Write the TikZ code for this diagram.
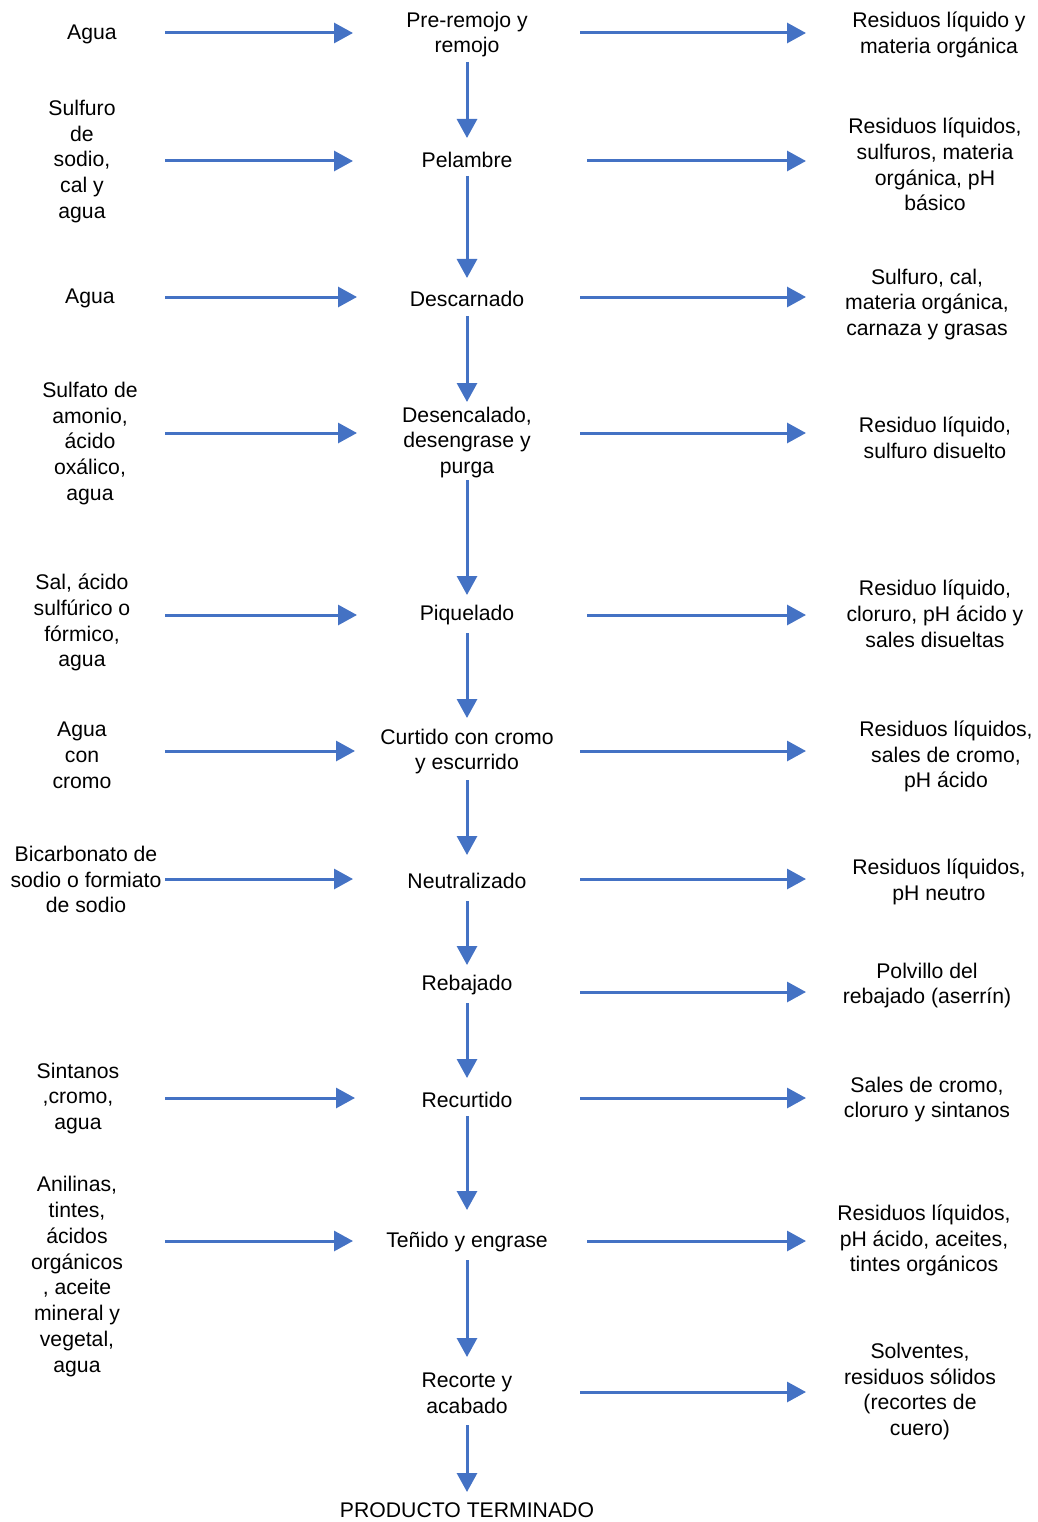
\documentclass[tikz,border=0pt]{standalone}
\usepackage{fontspec}
\setmainfont{Liberation Sans}
\usetikzlibrary{arrows.meta}
\definecolor{arrblue}{HTML}{4472C4}
\tikzset{
  txt/.style={align=center, inner sep=0pt, yshift=-1.5pt, font=\fontsize{21.2}{25.8}\selectfont},
  flow/.style={draw=arrblue, line width=3pt, -{Triangle[length=19pt,width=20pt]}, arrblue},
}
\begin{document}
\begin{tikzpicture}[x=1pt,y=-1pt]
\useasboundingbox (0,0) rectangle (1037,1522);
% center column
\node[txt] (c1) at (467,33) {Pre-remojo y\\remojo};
\node[txt] (c2) at (467,158) {Pelambre};
\node[txt] (c3) at (467,297) {Descarnado};
\node[txt] (c4) at (467,441) {Desencalado,\\desengrase y\\purga};
\node[txt] (c5) at (467,614) {Piquelado};
\node[txt] (c6) at (467,750) {Curtido con cromo\\y escurrido};
\node[txt] (c7) at (467,879) {Neutralizado};
\node[txt] (c8) at (467,984) {Rebajado};
\node[txt] (c9) at (467,1098) {Recurtido};
\node[txt] (c10) at (467,1241) {Teñido y engrase};
\node[txt] (c11) at (467,1392) {Recorte y\\acabado};
\node[txt] (c12) at (467,1508.5) {PRODUCTO TERMINADO};
% left column
\node[txt] (l1) at (92,33) {Agua};
\node[txt] (l2) at (82,160) {Sulfuro\\de\\sodio,\\cal y\\agua};
\node[txt] (l3) at (90,297) {Agua};
\node[txt] (l4) at (90,442) {Sulfato de\\amonio,\\ácido\\oxálico,\\agua};
\node[txt] (l5) at (82,621) {Sal, ácido\\sulfúrico o\\fórmico,\\agua};
\node[txt] (l6) at (82,754) {Agua\\con\\cromo};
\node[txt] (l7) at (86,878) {Bicarbonato de\\sodio o formiato\\de sodio};
\node[txt] (l9) at (78,1097) {Sintanos\\,cromo,\\agua};
\node[txt] (l10) at (77,1275) {Anilinas,\\tintes,\\ácidos\\orgánicos\\, aceite\\mineral y\\vegetal,\\agua};
% right column
\node[txt] (r1) at (939,33) {Residuos líquido y\\materia orgánica};
\node[txt] (r2) at (935,163) {Residuos líquidos,\\sulfuros, materia\\orgánica, pH\\básico};
\node[txt] (r3) at (927,303) {Sulfuro, cal,\\materia orgánica,\\carnaza y grasas};
\node[txt] (r4) at (935,436) {Residuo líquido,\\sulfuro disuelto};
\node[txt] (r5) at (935,612) {Residuo líquido,\\cloruro, pH ácido y\\sales disueltas};
\node[txt] (r6) at (946,755) {Residuos líquidos,\\sales de cromo,\\pH ácido};
\node[txt] (r7) at (939,880) {Residuos líquidos,\\pH neutro};
\node[txt] (r8) at (927,984) {Polvillo del\\rebajado (aserrín)};
\node[txt] (r9) at (927,1098) {Sales de cromo,\\cloruro y sintanos};
\node[txt] (r10) at (924,1239) {Residuos líquidos,\\pH ácido, aceites,\\tintes orgánicos};
\node[txt] (r11) at (920,1390) {Solventes,\\residuos sólidos\\(recortes de\\cuero)};
% arrow endpoints: vertical
\coordinate (v1s) at (467,62);   \coordinate (v1e) at (467,138);
\coordinate (v2s) at (467,176);  \coordinate (v2e) at (467,278);
\coordinate (v3s) at (467,316);  \coordinate (v3e) at (467,402);
\coordinate (v4s) at (467,480);  \coordinate (v4e) at (467,595);
\coordinate (v5s) at (467,633);  \coordinate (v5e) at (467,718);
\coordinate (v6s) at (467,780);  \coordinate (v6e) at (467,855);
\coordinate (v7s) at (467,901);  \coordinate (v7e) at (467,965);
\coordinate (v8s) at (467,1003); \coordinate (v8e) at (467,1078);
\coordinate (v9s) at (467,1116); \coordinate (v9e) at (467,1210);
\coordinate (v10s) at (467,1260);\coordinate (v10e) at (467,1357);
\coordinate (v11s) at (467,1425);\coordinate (v11e) at (467,1492);
% left arrows
\coordinate (a1s) at (165,33);   \coordinate (a1e) at (353,33);
\coordinate (a2s) at (165,161);  \coordinate (a2e) at (353,161);
\coordinate (a3s) at (165,297);  \coordinate (a3e) at (357,297);
\coordinate (a4s) at (165,433);  \coordinate (a4e) at (357,433);
\coordinate (a5s) at (165,615);  \coordinate (a5e) at (357,615);
\coordinate (a6s) at (165,751);  \coordinate (a6e) at (355,751);
\coordinate (a7s) at (165,879);  \coordinate (a7e) at (353,879);
\coordinate (a9s) at (165,1098); \coordinate (a9e) at (355,1098);
\coordinate (a10s) at (165,1241);\coordinate (a10e) at (353,1241);
% right arrows
\coordinate (b1s) at (580,33);   \coordinate (b1e) at (806,33);
\coordinate (b2s) at (587,161);  \coordinate (b2e) at (806,161);
\coordinate (b3s) at (580,297);  \coordinate (b3e) at (806,297);
\coordinate (b4s) at (580,433);  \coordinate (b4e) at (806,433);
\coordinate (b5s) at (587,615);  \coordinate (b5e) at (806,615);
\coordinate (b6s) at (580,751);  \coordinate (b6e) at (806,751);
\coordinate (b7s) at (580,879);  \coordinate (b7e) at (806,879);
\coordinate (b8s) at (580,992);  \coordinate (b8e) at (806,992);
\coordinate (b9s) at (580,1098); \coordinate (b9e) at (806,1098);
\coordinate (b10s) at (587,1241);\coordinate (b10e) at (806,1241);
\coordinate (b11s) at (580,1392);\coordinate (b11e) at (806,1392);
\foreach \i in {1,...,11} {\draw[flow] (v\i s) -- (v\i e);}
\foreach \i in {1,2,3,4,5,6,7,9,10} {\draw[flow] (a\i s) -- (a\i e);}
\foreach \i in {1,...,11} {\draw[flow] (b\i s) -- (b\i e);}
\end{tikzpicture}
\end{document}
